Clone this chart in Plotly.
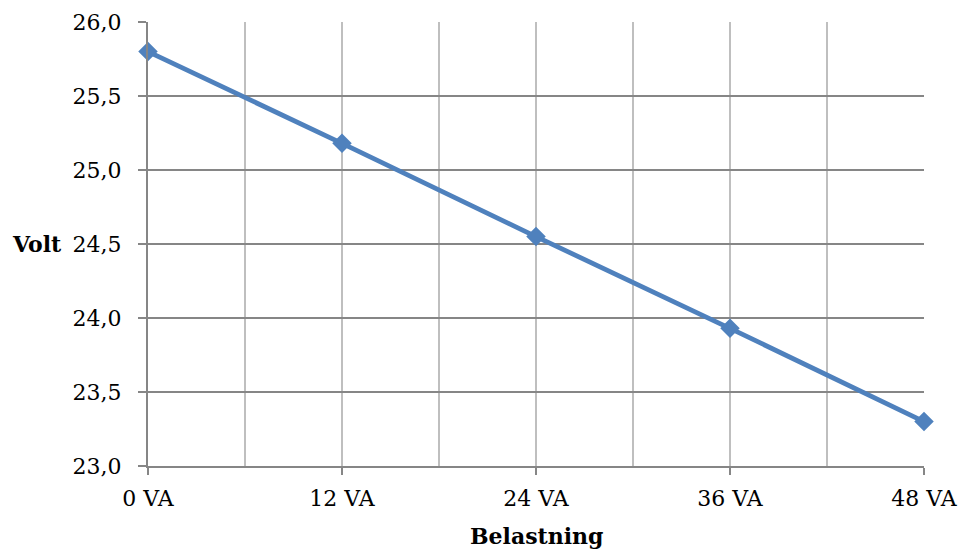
import plotly.graph_objects as go

belastning = [0, 12, 24, 36, 48]
belastning_labels = ["0 VA", "12 VA", "24 VA", "36 VA", "48 VA"]
volt = [25.8, 25.18, 24.55, 23.93, 23.3]

FONT = "DejaVu Serif"
fig = go.Figure()
fig.add_trace(go.Scatter(
    x=belastning, y=volt, mode="lines+markers",
    line=dict(color="#4F81BD", width=4.8),
    marker=dict(symbol="diamond", size=15, color="#4F81BD"),
    cliponaxis=False, showlegend=False,
))
fig.update_layout(
    width=962, height=553,
    margin=dict(l=148, r=38, t=22, b=87),
    plot_bgcolor="white", paper_bgcolor="white",
    separators=", ",
    font=dict(family=FONT, size=22, color="black"),
    xaxis=dict(
        range=[0, 48], tickmode="array", tickvals=belastning,
        ticktext=belastning_labels, automargin=False,
        showgrid=True, gridcolor="#BFBFBF", gridwidth=1.5,
        minor=dict(dtick=6, tick0=0, showgrid=True, gridcolor="#BFBFBF", gridwidth=1.5, ticks=""),
        showline=True, linecolor="#868686", linewidth=2,
        ticks="outside", ticklen=7, tickcolor="#868686", tickwidth=2,
        ticklabelstandoff=5,
        zeroline=False,
    ),
    yaxis=dict(
        range=[23, 26], dtick=0.5, tick0=23, tickformat=".1f",
        automargin=False,
        showgrid=True, gridcolor="#868686", gridwidth=1.5,
        showline=True, linecolor="#868686", linewidth=2,
        ticks="outside", ticklen=8, tickcolor="#868686", tickwidth=2,
        ticklabelstandoff=12,
        zeroline=False,
    ),
    annotations=[
        dict(text="<b>Volt</b>", xref="paper", yref="paper", x=0, y=0.5,
             xshift=-111, xanchor="center", yanchor="middle", showarrow=False,
             font=dict(family=FONT, size=22)),
        dict(text="<b>Belastning</b>", xref="paper", yref="paper", x=0.5, y=0,
             yshift=-70, xanchor="center", yanchor="middle", showarrow=False,
             font=dict(family=FONT, size=22)),
    ],
)
fig.write_html(
    "out.html",
    config={"displayModeBar": False},
    post_script="document.body.style.margin='0';document.body.style.overflow='hidden';",
)
